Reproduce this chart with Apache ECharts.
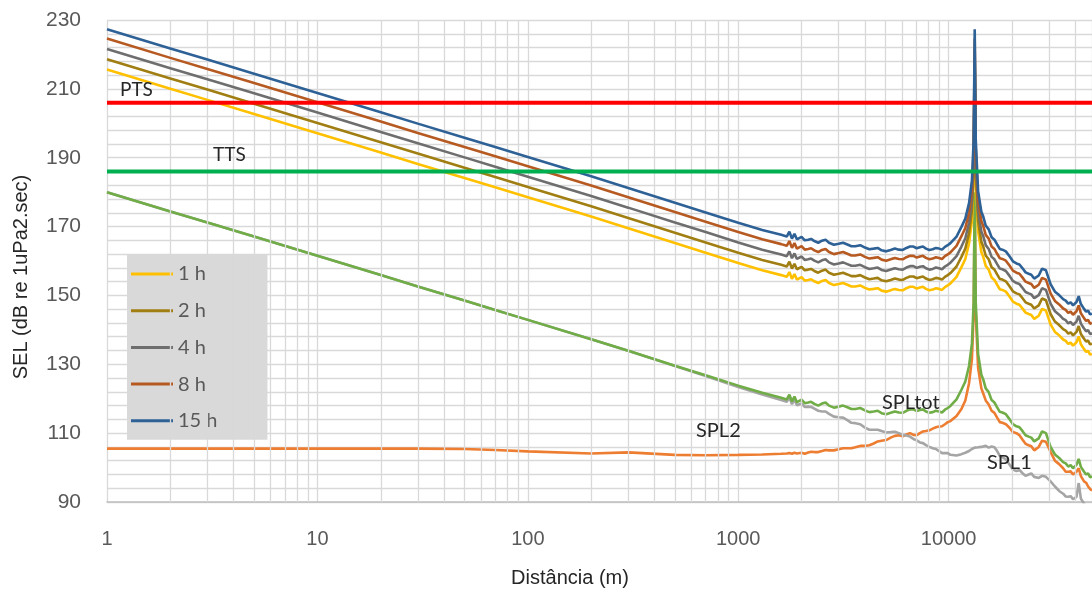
<!DOCTYPE html>
<html>
<head>
<meta charset="utf-8">
<script src="https://cdn.jsdelivr.net/npm/echarts@6/dist/echarts.min.js"></script>
<style>
html,body{margin:0;padding:0;background:#fff;}
#c{width:1092px;height:592px;}
</style>
</head>
<body>
<div id="c"></div>
<script>
// Distance (m)
const distances = [1, 2, 3, 5, 10, 20, 30, 50, 70, 100,
  200, 300, 500, 700, 1000, 1300, 1600, 1700, 1750, 1800,
  1850, 1900, 2000, 2070, 2150, 2220, 2300, 2400, 2500, 2600,
  2700, 2850, 3000, 3150, 3300, 3450, 3600, 3800, 4000, 4200,
  4400, 4600, 4800, 5050, 5300, 5550, 5800, 6050, 6300, 6550,
  6800, 7050, 7300, 7550, 7800, 8100, 8400, 8700, 9000, 9300,
  9600, 9900, 10200, 10900, 11500, 12000, 12500, 12900, 13150, 13300,
  13450, 13800, 14300, 14600, 15000, 15500, 16000, 16500, 17000, 17500,
  18000, 18700, 19500, 20200, 21000, 21700, 22500, 23200, 24000, 24700,
  25500, 26800, 27800, 29000, 30500, 32000, 33500, 34200, 35000, 36000,
  37000, 38000, 39000, 40500, 41500, 42500, 44000, 45000, 46000, 47000,
  48000];

const splTot = [180.0, 174.4, 171.2, 167.1, 161.5, 155.9, 152.6, 148.5, 145.8, 142.9,
  137.3, 133.9, 129.6, 126.8, 123.8, 121.7, 120.3, 119.8, 121.2, 119.2,
  120.6, 119.0, 119.7, 118.7, 118.9, 119.1, 118.5, 118.0, 118.6, 118.9,
  118.0, 117.4, 117.7, 118.0, 117.5, 117.0, 117.0, 117.3, 116.6, 116.1,
  116.3, 116.5, 115.8, 115.5, 115.9, 116.3, 116.0, 115.9, 116.5, 116.9,
  116.9, 116.4, 116.7, 116.9, 116.3, 115.9, 116.1, 116.5, 116.3, 116.0,
  116.8, 117.3, 117.9, 119.8, 122.6, 125.0, 129.5, 136.0, 148.0, 180.0,
  148.0, 133.0, 127.0, 125.6, 123.0, 121.9, 119.6, 118.9, 117.5, 116.2,
  116.0, 115.5, 114.0, 112.6, 112.0, 111.7, 110.5, 109.4, 109.0, 108.7,
  107.6, 108.5, 110.5, 110.0, 106.0, 103.8, 102.8, 102.6, 101.6, 101.2,
  100.3, 100.7, 99.8, 100.8, 102.5, 100.2, 98.8, 98.0, 98.3, 97.2,
  97.4];

const spl1 = [180.0, 174.4, 171.2, 167.1, 161.5, 155.9, 152.6, 148.5, 145.8, 142.9,
  137.3, 133.9, 129.5, 126.6, 123.4, 121.2, 119.6, 119.1, 120.4, 118.4,
  119.8, 118.1, 118.6, 117.6, 117.7, 117.6, 117.1, 116.5, 116.3, 116.3,
  115.6, 114.8, 114.6, 114.5, 113.8, 113.0, 112.9, 112.6, 111.6, 111.0,
  111.0, 111.0, 110.6, 110.2, 110.3, 110.4, 110.0, 109.5, 109.3, 109.0,
  108.3, 107.9, 107.3, 107.1, 106.5, 106.0, 105.6, 105.4, 104.8, 104.2,
  104.2, 104.2, 103.7, 103.5, 103.9, 104.3, 104.8, 105.4, 105.6, 105.8,
  105.7, 105.9, 106.0, 106.4, 106.3, 105.8, 106.1, 105.9, 104.8, 103.4,
  103.0, 102.4, 100.8, 99.4, 99.0, 99.3, 98.3, 97.6, 98.0, 98.3,
  97.3, 97.0, 97.6, 97.3, 96.0, 94.5, 93.2, 93.3, 92.4, 91.6,
  91.5, 91.7, 90.8, 91.5, 95.5, 91.0, 89.5, 88.8, 88.0, 87.5,
  87.0];

const spl2 = [105.5, 105.5, 105.5, 105.5, 105.5, 105.5, 105.5, 105.4, 105.1, 104.7,
  104.1, 104.4, 103.7, 103.6, 103.7, 103.8, 104.0, 104.1, 104.2, 104.0,
  104.3, 104.1, 104.3, 104.0, 104.4, 104.6, 104.5, 104.5, 104.8, 105.1,
  105.0, 105.0, 105.3, 105.6, 105.6, 105.6, 105.9, 106.3, 106.3, 106.5,
  107.0, 107.6, 107.8, 108.0, 108.7, 109.2, 109.4, 109.1, 109.6, 110.0,
  109.5, 109.4, 110.0, 110.5, 110.6, 110.8, 111.3, 111.7, 111.9, 112.0,
  112.6, 113.2, 113.5, 115.0, 117.0, 119.5, 124.5, 131.5, 145.0, 178.0,
  145.0, 129.0, 123.0, 121.5, 119.5, 118.3, 116.5, 115.9, 114.5, 113.2,
  113.0, 112.6, 111.5, 110.3, 110.0, 109.4, 108.0, 106.9, 106.5, 106.2,
  105.0, 106.0, 107.8, 107.5, 104.5, 102.0, 101.0, 100.8, 99.8, 98.8,
  98.8, 98.9, 98.0, 98.8, 99.8, 97.5, 96.0, 95.6, 94.5, 93.8,
  93.3];

const sel1h = [215.6, 210.0, 206.8, 202.7, 197.1, 191.5, 188.2, 184.1, 181.4, 178.5,
  172.9, 169.5, 165.2, 162.4, 159.4, 157.3, 155.9, 155.4, 156.8, 154.8,
  156.2, 154.6, 155.3, 154.3, 154.5, 154.7, 154.1, 153.6, 154.2, 154.5,
  153.6, 153.0, 153.3, 153.6, 153.1, 152.6, 152.6, 152.9, 152.2, 151.7,
  151.9, 152.1, 151.4, 151.1, 151.5, 151.9, 151.6, 151.5, 152.1, 152.5,
  152.5, 152.0, 152.3, 152.5, 151.9, 151.5, 151.7, 152.1, 151.9, 151.6,
  152.4, 152.9, 153.5, 155.4, 158.2, 160.6, 165.1, 171.6, 183.6, 215.6,
  183.6, 168.6, 162.6, 161.2, 158.6, 157.5, 155.2, 154.5, 153.1, 151.8,
  151.6, 151.1, 149.6, 148.2, 147.6, 147.3, 146.1, 145.0, 144.6, 144.3,
  143.2, 144.1, 146.1, 145.6, 141.6, 139.4, 138.4, 138.2, 137.2, 136.8,
  135.9, 136.3, 135.4, 136.4, 138.1, 135.8, 134.4, 133.6, 133.9, 132.8,
  133.0];

const sel2h = [218.6, 213.0, 209.8, 205.7, 200.1, 194.5, 191.2, 187.1, 184.4, 181.5,
  175.9, 172.5, 168.2, 165.4, 162.4, 160.3, 158.9, 158.4, 159.8, 157.8,
  159.2, 157.6, 158.3, 157.3, 157.5, 157.7, 157.1, 156.6, 157.2, 157.5,
  156.6, 156.0, 156.3, 156.6, 156.1, 155.6, 155.6, 155.9, 155.2, 154.7,
  154.9, 155.1, 154.4, 154.1, 154.5, 154.9, 154.6, 154.5, 155.1, 155.5,
  155.5, 155.0, 155.3, 155.5, 154.9, 154.5, 154.7, 155.1, 154.9, 154.6,
  155.4, 155.9, 156.5, 158.4, 161.2, 163.6, 168.1, 174.6, 186.6, 218.6,
  186.6, 171.6, 165.6, 164.2, 161.6, 160.5, 158.2, 157.5, 156.1, 154.8,
  154.6, 154.1, 152.6, 151.2, 150.6, 150.3, 149.1, 148.0, 147.6, 147.3,
  146.2, 147.1, 149.1, 148.6, 144.6, 142.4, 141.4, 141.2, 140.2, 139.8,
  138.9, 139.3, 138.4, 139.4, 141.1, 138.8, 137.4, 136.6, 136.9, 135.8,
  136.0];

const sel4h = [221.6, 216.0, 212.8, 208.7, 203.1, 197.5, 194.2, 190.1, 187.4, 184.5,
  178.9, 175.5, 171.2, 168.4, 165.4, 163.3, 161.9, 161.4, 162.8, 160.8,
  162.2, 160.6, 161.3, 160.3, 160.5, 160.7, 160.1, 159.6, 160.2, 160.5,
  159.6, 159.0, 159.3, 159.6, 159.1, 158.6, 158.6, 158.9, 158.2, 157.7,
  157.9, 158.1, 157.4, 157.1, 157.5, 157.9, 157.6, 157.5, 158.1, 158.5,
  158.5, 158.0, 158.3, 158.5, 157.9, 157.5, 157.7, 158.1, 157.9, 157.6,
  158.4, 158.9, 159.5, 161.4, 164.2, 166.6, 171.1, 177.6, 189.6, 221.6,
  189.6, 174.6, 168.6, 167.2, 164.6, 163.5, 161.2, 160.5, 159.1, 157.8,
  157.6, 157.1, 155.6, 154.2, 153.6, 153.3, 152.1, 151.0, 150.6, 150.3,
  149.2, 150.1, 152.1, 151.6, 147.6, 145.4, 144.4, 144.2, 143.2, 142.8,
  141.9, 142.3, 141.4, 142.4, 144.1, 141.8, 140.4, 139.6, 139.9, 138.8,
  139.0];

const sel8h = [224.6, 219.0, 215.8, 211.7, 206.1, 200.5, 197.2, 193.1, 190.4, 187.5,
  181.9, 178.5, 174.2, 171.4, 168.4, 166.3, 164.9, 164.4, 165.8, 163.8,
  165.2, 163.6, 164.3, 163.3, 163.5, 163.7, 163.1, 162.6, 163.2, 163.5,
  162.6, 162.0, 162.3, 162.6, 162.1, 161.6, 161.6, 161.9, 161.2, 160.7,
  160.9, 161.1, 160.4, 160.1, 160.5, 160.9, 160.6, 160.5, 161.1, 161.5,
  161.5, 161.0, 161.3, 161.5, 160.9, 160.5, 160.7, 161.1, 160.9, 160.6,
  161.4, 161.9, 162.5, 164.4, 167.2, 169.6, 174.1, 180.6, 192.6, 224.6,
  192.6, 177.6, 171.6, 170.2, 167.6, 166.5, 164.2, 163.5, 162.1, 160.8,
  160.6, 160.1, 158.6, 157.2, 156.6, 156.3, 155.1, 154.0, 153.6, 153.3,
  152.2, 153.1, 155.1, 154.6, 150.6, 148.4, 147.4, 147.2, 146.2, 145.8,
  144.9, 145.3, 144.4, 145.4, 147.1, 144.8, 143.4, 142.6, 142.9, 141.8,
  142.0];

const sel15h = [227.3, 221.7, 218.5, 214.4, 208.8, 203.2, 199.9, 195.8, 193.1, 190.2,
  184.6, 181.2, 176.9, 174.1, 171.1, 169.0, 167.6, 167.1, 168.5, 166.5,
  167.9, 166.3, 167.0, 166.0, 166.2, 166.4, 165.8, 165.3, 165.9, 166.2,
  165.3, 164.7, 165.0, 165.3, 164.8, 164.3, 164.3, 164.6, 163.9, 163.4,
  163.6, 163.8, 163.1, 162.8, 163.2, 163.6, 163.3, 163.2, 163.8, 164.2,
  164.2, 163.7, 164.0, 164.2, 163.6, 163.2, 163.4, 163.8, 163.6, 163.3,
  164.1, 164.6, 165.2, 167.1, 169.9, 172.3, 176.8, 183.3, 195.3, 227.3,
  195.3, 180.3, 174.3, 172.9, 170.3, 169.2, 166.9, 166.2, 164.8, 163.5,
  163.3, 162.8, 161.3, 159.9, 159.3, 159.0, 157.8, 156.7, 156.3, 156.0,
  154.9, 155.8, 157.8, 157.3, 153.3, 151.1, 150.1, 149.9, 148.9, 148.5,
  147.6, 148.0, 147.1, 148.1, 149.8, 147.5, 146.1, 145.3, 145.6, 144.5,
  144.7];

const ptsLevel = 206;
const ttsLevel = 186;
const xRange = [1, 48000];
const xTickLabels = ['1', '10', '100', '1000', '10000'];
const legendNames = ['1 h', '2 h', '4 h', '8 h', '15 h'];

function pairs(vals) { return distances.map((d, i) => [d, vals[i]]); }

// log minor grid positions (2..9 x 10^k)
const minorX = [];
for (let k = 0; k <= 4; k++) {
  for (let m = 2; m <= 9; m++) {
    const v = m * Math.pow(10, k);
    if (v < xRange[1]) minorX.push({ xAxis: v });
  }
}

function lineSeries(name, vals, color, width, z) {
  return {
    name: name, type: 'line', data: pairs(vals), symbol: 'none', showSymbol: false,
    lineStyle: { color: color, width: width }, itemStyle: { color: color },
    z: z, silent: true, animation: false
  };
}

const tickFont = "'Liberation Sans', Arial, sans-serif";
const lblFont = "Lato, 'Open Sans', sans-serif";

const chart = echarts.init(document.getElementById('c'), null, { renderer: 'canvas' });
chart.setOption({
  animation: false,
  backgroundColor: '#ffffff',
  grid: { left: 107, right: 0, top: 20, bottom: 90, containLabel: false },
  xAxis: {
    type: 'log', logBase: 10, min: xRange[0], max: xRange[1],
    axisLine: { show: true, lineStyle: { color: '#BFBFBF', width: 1.5 } },
    axisTick: { show: false },
    axisLabel: {
      fontSize: 20, color: '#595959', fontFamily: tickFont, margin: 27,
      showMaxLabel: false,
      formatter: function (v) {
        const s = String(Math.round(v));
        return xTickLabels.indexOf(s) >= 0 ? s : '';
      }
    },
    splitLine: { show: true, lineStyle: { color: '#D9D9D9', width: 1.3 } }
  },
  yAxis: {
    type: 'value', min: 90, max: 230, interval: 20,
    axisLine: { show: false }, axisTick: { show: false },
    axisLabel: { fontSize: 21, color: '#595959', fontFamily: tickFont, margin: 26 },
    splitLine: { show: true, lineStyle: { color: '#D9D9D9', width: 1.3 } },
    minorTick: { show: false, splitNumber: 5 },
    minorSplitLine: { show: true, lineStyle: { color: '#D9D9D9', width: 1.3 } }
  },
  legend: {
    data: legendNames, orient: 'vertical', left: 127, top: 255,
    padding: [9, 50, 9, 4], itemWidth: 42, itemHeight: 3, itemGap: 16.7,
    icon: 'rect',
    backgroundColor: '#D9D9D9', borderRadius: 0,
    textStyle: { fontSize: 20, color: '#595959', fontFamily: lblFont },
    selectedMode: false
  },
  series: [
    {
      type: 'line', data: [], z: 1, silent: true,
      markLine: {
        silent: true, symbol: ['none', 'none'], animation: false,
        label: { show: false },
        lineStyle: { color: '#D9D9D9', width: 1.3, type: 'solid' },
        emphasis: { disabled: true },
        data: minorX
      }
    },
    lineSeries('SPL2', spl2, '#ED7D31', 2.6, 3),
    lineSeries('SPL1', spl1, '#A5A5A5', 2.6, 3),
    lineSeries('SPLtot', splTot, '#70AD47', 2.6, 4),
    lineSeries('1 h', sel1h, '#FFC000', 2.6, 5),
    lineSeries('2 h', sel2h, '#A07E12', 2.6, 5),
    lineSeries('4 h', sel4h, '#6E6E6E', 2.6, 5),
    lineSeries('8 h', sel8h, '#B65A22', 2.6, 5),
    lineSeries('15 h', sel15h, '#2E6196', 2.6, 6),
    {
      name: 'PTS', type: 'line', data: [[xRange[0], ptsLevel], [xRange[1], ptsLevel]],
      symbol: 'none', lineStyle: { color: '#FF0000', width: 4 }, z: 7, silent: true
    },
    {
      name: 'TTS', type: 'line', data: [[xRange[0], ttsLevel], [xRange[1], ttsLevel]],
      symbol: 'none', lineStyle: { color: '#00B050', width: 4 }, z: 7, silent: true
    }
  ],
  graphic: [
    { type: 'text', x: 120, y: 90, z: 20, style: { text: 'PTS', fontSize: 19, fontFamily: lblFont, fill: '#262626', align: 'left', verticalAlign: 'middle' } },
    { type: 'text', x: 213, y: 155, z: 20, style: { text: 'TTS', fontSize: 19, fontFamily: lblFont, fill: '#262626', align: 'left', verticalAlign: 'middle' } },
    { type: 'text', x: 882, y: 403, z: 20, style: { text: 'SPLtot', fontSize: 20, fontFamily: lblFont, fill: '#262626', align: 'left', verticalAlign: 'middle' } },
    { type: 'text', x: 696, y: 431, z: 20, style: { text: 'SPL2', fontSize: 20, fontFamily: lblFont, fill: '#262626', align: 'left', verticalAlign: 'middle' } },
    { type: 'text', x: 987, y: 463, z: 20, style: { text: 'SPL1', fontSize: 20, fontFamily: lblFont, fill: '#262626', align: 'left', verticalAlign: 'middle' } },
    { type: 'text', x: 570, y: 578, z: 20, style: { text: 'Distância (m)', fontSize: 20, fontFamily: tickFont, fill: '#262626', align: 'center', verticalAlign: 'middle' } },
    { type: 'text', x: 21, y: 277, rotation: Math.PI / 2, z: 20, style: { text: 'SEL (dB re 1uPa2.sec)', fontSize: 20, fontFamily: tickFont, fill: '#262626', align: 'center', verticalAlign: 'middle' } }
  ]
});
</script>
</body>
</html>
